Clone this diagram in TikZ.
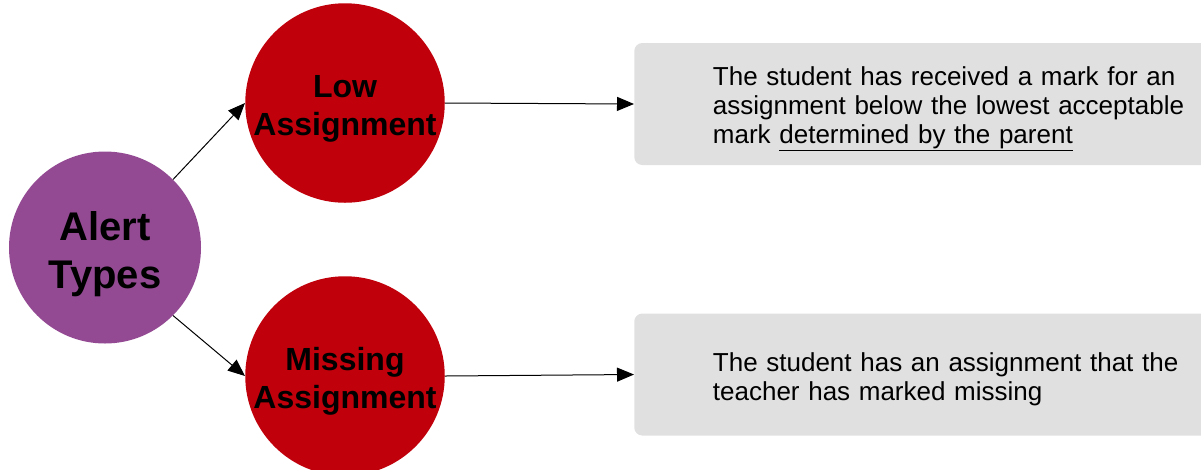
\documentclass[tikz,border=0pt]{standalone}
\usepackage{fontspec}
\setmainfont{Liberation Sans}
\usepackage{tikz}
\usetikzlibrary{positioning,shapes,arrows.meta,calc}

\definecolor{alertpurple}{RGB}{147,74,147}
\definecolor{typered}{RGB}{192,0,11}
\definecolor{descgray}{RGB}{224,224,224}

% extra room above the first line of a bubble
\newcommand{\topgap}{\rule{0pt}{1.08em}}

\begin{document}
\begin{tikzpicture}[x=0.75pt, y=-0.75pt,
    bubble/.style={circle, minimum size=144pt, inner sep=0pt, align=center, fill=typered, font=\fontsize{24}{28.5}\selectfont\bfseries},
    desc/.style={rectangle, anchor=west, fill=descgray, rounded corners=6pt, minimum height=91.5pt, inner xsep=59pt, text width=380pt, align=left, font=\fontsize{19.5}{21.75}\selectfont, execute at begin node={\rule{0pt}{1.1em}}},
    arrow/.style={->, >={Triangle[length=12.75pt,width=10.5pt]}, line width=0.75pt}]

    \useasboundingbox (0,0) rectangle (1201,469);

    % Alert types
    \node[bubble, fill=alertpurple, font=\fontsize{30}{36}\selectfont\bfseries] (alert) at (105,247.5) {\topgap Alert\\Types};

    % Kinds of alert
    \node[bubble] (low) at (345,103) {\topgap Low\\Assignment};
    \node[bubble] (missing) at (345,376) {\topgap Missing\\Assignment};

    % Descriptions
    \node[desc] (lowdesc) at (634,104) {The student has received a mark for an\\assignment below the lowest acceptable\\mark \underline{determined by the parent}};
    \node[desc] (missingdesc) at (634,374.5) {The student has an assignment that the\\teacher has marked missing};

    % Connect them
    \draw[arrow] (alert.45) -- (low.west);
    \draw[arrow] (alert.-45) -- (missing.west);
    \draw[arrow] (low.east) -- (lowdesc.west);
    \draw[arrow] (missing.east) -- (missingdesc.west);
\end{tikzpicture}
\end{document}
